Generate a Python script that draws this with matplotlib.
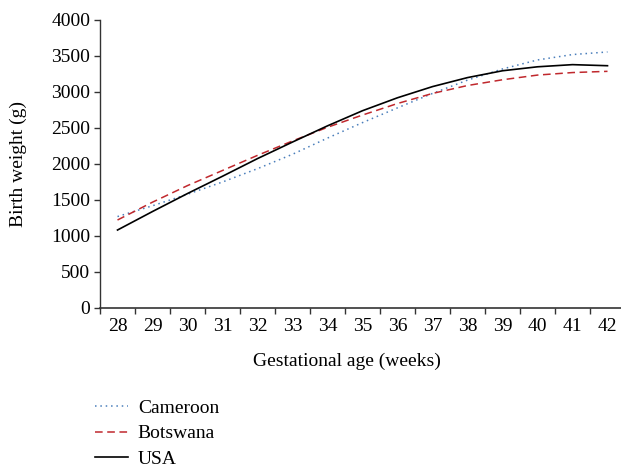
import matplotlib.pyplot as plt
from matplotlib.ticker import FixedLocator

plt.rcParams['font.family'] = ['Liberation Serif', 'DejaVu Serif']

weeks = [28, 29, 30, 31, 32, 33, 34, 35, 36, 37, 38, 39, 40, 41, 42]
cameroon = [1270, 1420, 1580, 1750, 1935, 2135, 2360, 2575, 2780, 2980, 3165, 3320, 3445, 3520, 3556]
botswana = [1222, 1470, 1700, 1910, 2120, 2320, 2510, 2680, 2840, 2980, 3090, 3170, 3235, 3270, 3287]
usa = [1083, 1340, 1590, 1830, 2075, 2305, 2530, 2740, 2920, 3075, 3200, 3295, 3350, 3380, 3365]

fig = plt.figure(figsize=(6.21, 4.70), dpi=100)
ax = fig.add_axes([100 / 621, 1 - 308 / 470, 525 / 621, 288 / 470])

ax.plot(weeks, cameroon, color='#4a7ebb', linestyle=(0, (1, 2.5)), linewidth=1.1, label='Cameroon')
ax.plot(weeks, botswana, color='#c0282d', linestyle=(0, (5, 3)), linewidth=1.1, label='Botswana')
ax.plot(weeks, usa, color='black', linestyle='-', linewidth=1.2, label='USA')

ax.set_xlim(27.5, 42.5)
ax.set_ylim(0, 4000)
ax.set_yticks(range(0, 4001, 500))
ax.set_xticks(weeks)
ax.tick_params(axis='x', length=0, labelsize=14, pad=7)
ax.xaxis.set_minor_locator(FixedLocator([w + 0.5 for w in range(27, 43)]))
ax.tick_params(axis='x', which='minor', length=4, width=1, color='#333333', direction='out')
ax.tick_params(axis='y', length=4, width=1, color='#333333', labelsize=14, pad=3)

for side in ['top', 'right']:
    ax.spines[side].set_visible(False)
ax.spines['left'].set_color('#333333')
ax.spines['bottom'].set_color('#333333')
ax.spines['left'].set_linewidth(1)
ax.spines['bottom'].set_linewidth(1.2)

ax.set_xlabel('Gestational age (weeks)', fontsize=14)
ax.set_ylabel('Birth weight (g)', fontsize=14)
ax.xaxis.set_label_coords(247 / 525, -45 / 288)
ax.yaxis.set_label_coords(-73 / 525, 0.5)

fig.legend(loc='upper left', bbox_to_anchor=(95 / 621, 1 - 399 / 470), frameon=False,
           fontsize=14, handlelength=1.7, handletextpad=0.5, labelspacing=0.42,
           borderaxespad=0, borderpad=0)

fig.savefig('out.png', dpi=100)
